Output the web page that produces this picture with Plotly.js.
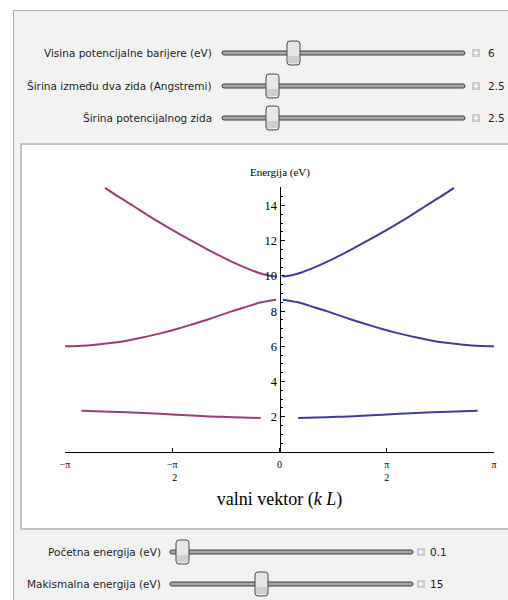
<!DOCTYPE html>
<html>
<head>
<meta charset="utf-8">
<script src="https://cdn.plot.ly/plotly-3.0.1.min.js"></script>
<style>
  html, body { margin: 0; padding: 0; background: #ffffff; }
  #chart { width: 508px; height: 600px; }
</style>
</head>
<body>
<div id="chart"></div>
<script>
// ---------------- data ----------------
// k > 0 (blue), wave vector kL in radians, energy in eV
const rightBand1K = [0.275, 0.53, 0.85, 1.02, 1.51, 2.00, 2.48, 2.90];
const rightBand1E = [1.93, 1.96, 2.00, 2.02, 2.12, 2.21, 2.29, 2.34];
const rightBand2K = [0.05, 0.27, 0.50, 0.69, 0.84, 1.07, 1.27, 1.49, 1.73, 2.01, 2.20, 2.44, 2.66, 2.81, 2.95, 3.14];
const rightBand2E = [8.65, 8.50, 8.23, 8.00, 7.80, 7.50, 7.26, 7.00, 6.75, 6.50, 6.35, 6.20, 6.10, 6.05, 6.02, 6.01];
const rightBand3K = [0.04, 0.12, 0.30, 0.52, 0.80, 1.05, 1.29, 1.52, 1.74, 1.95, 2.15, 2.36, 2.556];
const rightBand3E = [9.97, 10.00, 10.17, 10.50, 11.00, 11.50, 12.00, 12.50, 13.00, 13.50, 14.00, 14.50, 15.00];
// k < 0 (purple)
const leftBand1K = [-0.275, -0.53, -0.85, -1.02, -1.51, -2.00, -2.48, -2.90];
const leftBand1E = [1.93, 1.96, 2.00, 2.02, 2.12, 2.21, 2.29, 2.34];
const leftBand2K = [-0.05, -0.27, -0.50, -0.69, -0.84, -1.07, -1.27, -1.49, -1.73, -2.01, -2.20, -2.44, -2.66, -2.81, -2.95, -3.14];
const leftBand2E = [8.65, 8.50, 8.23, 8.00, 7.80, 7.50, 7.26, 7.00, 6.75, 6.50, 6.35, 6.20, 6.10, 6.05, 6.02, 6.01];
const leftBand3K = [-0.04, -0.12, -0.30, -0.52, -0.80, -1.05, -1.29, -1.52, -1.74, -1.95, -2.15, -2.36, -2.556];
const leftBand3E = [9.97, 10.00, 10.17, 10.50, 11.00, 11.50, 12.00, 12.50, 13.00, 13.50, 14.00, 14.50, 15.00];

// axis ticks
const xTickVals = [-Math.PI, -Math.PI / 2, 0, Math.PI / 2, Math.PI];
const xTickText = ['\u2212\u03c0', '\u2212\u03c0<br>\u00a0\u00a02', '0', '\u03c0<br>2', '\u03c0'];
const yTickVals = [2, 4, 6, 8, 10, 12, 14];

// texts
const xTitle = 'valni vektor (<i>k</i> <i>L</i>)';
const yTitle = 'Energija (eV)';
const topSliderLabels = ['Visina potencijalne barijere (eV)', '\u0160irina izme\u0111u dva zida (Angstremi)', '\u0160irina potencijalnog zida'];
const topSliderValues = ['6', '2.5', '2.5'];
const bottomSliderLabels = ['Po\u010detna energija (eV)', 'Makismalna energija (eV)'];
const bottomSliderValues = ['0.1', '15'];

// ---------------- layout helpers (pixels -> paper) ----------------
const ML = 65, MT = 187, PW = 429, PH = 265;
const X = px => (px - ML) / PW;
const Y = py => (MT + PH - py) / PH;

const blue = '#3d3d99';
const purple = '#993d74';
const serif = 'Liberation Serif, Times New Roman, serif';
const sans = 'DejaVu Sans, Liberation Sans, sans-serif';

function line(k, e, color) {
  return { x: k, y: e, type: 'scatter', mode: 'lines',
    line: { color: color, width: 2, shape: 'spline', smoothing: 0.8 },
    hoverinfo: 'skip' };
}
const traces = [
  line(leftBand1K, leftBand1E, purple),
  line(leftBand2K, leftBand2E, purple),
  line(leftBand3K, leftBand3E, purple),
  line(rightBand1K, rightBand1E, blue),
  line(rightBand2K, rightBand2E, blue),
  line(rightBand3K, rightBand3E, blue)
];

const shapes = [];
const annotations = [];

// panel background and plot box
shapes.push({ type: 'rect', xref: 'paper', yref: 'paper', layer: 'below',
  x0: X(13.5), x1: X(530), y0: Y(10.5), y1: Y(630),
  fillcolor: '#f2f2f2', line: { color: '#ababab', width: 1 } });
shapes.push({ type: 'rect', xref: 'paper', yref: 'paper', layer: 'below',
  x0: X(21), x1: X(530), y0: Y(144), y1: Y(529),
  fillcolor: '#ffffff', line: { color: '#c4c4c4', width: 2 } });

function roundRectPath(x0, y0, x1, y1, r) {
  const p = (a, b) => X(a) + ',' + Y(b);
  return 'M' + p(x0 + r, y0) + ' L' + p(x1 - r, y0) + ' Q' + p(x1, y0) + ' ' + p(x1, y0 + r) +
    ' L' + p(x1, y1 - r) + ' Q' + p(x1, y1) + ' ' + p(x1 - r, y1) +
    ' L' + p(x0 + r, y1) + ' Q' + p(x0, y1) + ' ' + p(x0, y1 - r) +
    ' L' + p(x0, y0 + r) + ' Q' + p(x0, y0) + ' ' + p(x0 + r, y0) + ' Z';
}

function slider(label, value, cy, labelRight, trackX0, trackX1, thumbX0, plusX0, valueX) {
  annotations.push({ xref: 'paper', yref: 'paper', x: X(labelRight), y: Y(cy),
    xanchor: 'right', yanchor: 'middle', showarrow: false, text: label,
    font: { family: sans, size: 10.5, color: '#1e1e1e' } });
  // track
  shapes.push({ type: 'path', xref: 'paper', yref: 'paper', layer: 'below',
    path: roundRectPath(trackX0, cy - 2, trackX1, cy + 2, 2),
    fillcolor: '#a8a8a8', line: { color: '#3c3c3c', width: 1 } });
  // thumb
  shapes.push({ type: 'path', xref: 'paper', yref: 'paper', layer: 'below',
    path: roundRectPath(thumbX0, cy - 12, thumbX0 + 13, cy + 12, 3),
    fillcolor: '#e6e6e6', line: { color: '#4a4a4a', width: 1 } });
  shapes.push({ type: 'rect', xref: 'paper', yref: 'paper', layer: 'below',
    x0: X(thumbX0 + 1), x1: X(thumbX0 + 12), y0: Y(cy + 3), y1: Y(cy + 10),
    fillcolor: '#cfcfcf', line: { width: 0 } });
  // plus icon
  shapes.push({ type: 'rect', xref: 'paper', yref: 'paper', layer: 'below',
    x0: X(plusX0), x1: X(plusX0 + 8), y0: Y(cy - 4), y1: Y(cy + 4),
    fillcolor: '#cacaca', line: { width: 0 } });
  shapes.push({ type: 'line', xref: 'paper', yref: 'paper', layer: 'below',
    x0: X(plusX0 + 1.5), x1: X(plusX0 + 6.5), y0: Y(cy), y1: Y(cy),
    line: { color: '#ffffff', width: 1.5 } });
  shapes.push({ type: 'line', xref: 'paper', yref: 'paper', layer: 'below',
    x0: X(plusX0 + 4), x1: X(plusX0 + 4), y0: Y(cy - 2.5), y1: Y(cy + 2.5),
    line: { color: '#ffffff', width: 1.5 } });
  annotations.push({ xref: 'paper', yref: 'paper', x: X(valueX), y: Y(cy),
    xanchor: 'left', yanchor: 'middle', showarrow: false, text: value,
    font: { family: sans, size: 10.5, color: '#1e1e1e' } });
}

const topRowsY = [53, 86, 118];
const topThumbX = [287, 266, 266];
topSliderLabels.forEach((lab, i) =>
  slider(lab, topSliderValues[i], topRowsY[i], 214, 222, 465, topThumbX[i], 472, 486));
const bottomRowsY = [552, 584];
const bottomThumbX = [176, 255];
bottomSliderLabels.forEach((lab, i) =>
  slider(lab, bottomSliderValues[i], bottomRowsY[i], 163, 170, 413, bottomThumbX[i], 417, 428));

// y axis title at top of axis
annotations.push({ xref: 'paper', yref: 'paper', x: 0.5, y: Y(172),
  xanchor: 'center', yanchor: 'middle', showarrow: false, text: yTitle,
  font: { family: serif, size: 11, color: '#000' } });

const layout = {
  width: 508, height: 600,
  margin: { l: ML, r: 508 - ML - PW, t: MT, b: 600 - MT - PH, pad: 0 },
  paper_bgcolor: '#ffffff', plot_bgcolor: 'rgba(0,0,0,0)',
  showlegend: false,
  xaxis: {
    range: [-Math.PI, Math.PI], tickmode: 'array', tickvals: xTickVals, ticktext: xTickText,
    ticks: 'inside', ticklen: 4, tickwidth: 1, tickcolor: '#000', ticklabelstandoff: 3,
    showline: true, linecolor: '#000', linewidth: 1, showgrid: false, zeroline: false,
    tickfont: { family: serif, size: 10, color: '#000' },
    title: { text: xTitle, font: { family: serif, size: 18, color: '#000' }, standoff: 10 }
  },
  yaxis: {
    range: [0, 15.05], anchor: 'free', position: 0.5,
    tickmode: 'array', tickvals: yTickVals,
    ticks: 'inside', ticklen: 4, tickwidth: 1, tickcolor: '#000',
    minor: { tick0: 0, dtick: 0.5, ticks: 'inside', ticklen: 2, tickcolor: '#000', showgrid: false },
    showline: true, linecolor: '#000', linewidth: 1, showgrid: false, zeroline: false,
    tickfont: { family: serif, size: 12.5, color: '#000' }
  },
  shapes: shapes,
  annotations: annotations
};

Plotly.newPlot('chart', traces, layout, { displayModeBar: false, staticPlot: true });
</script>
</body>
</html>
